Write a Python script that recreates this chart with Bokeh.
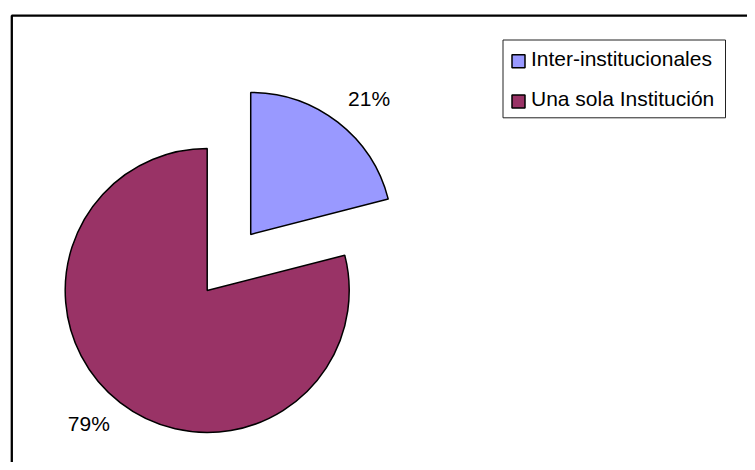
import math
from bokeh.plotting import figure
from bokeh.models import Range1d, ColumnDataSource
from bokeh.embed import file_html
from bokeh.resources import INLINE
from bokeh.core.properties import value

# ---- data ----
categories = ["Inter-institucionales", "Una sola Institución"]
values = [21, 79]
labels = ["21%", "79%"]
colors = ["#9999FF", "#993366"]
explode = [71, 0]          # px offset of each slice (style)

# ---- layout helpers (picture px -> data units; frame is the full canvas) ----
W, H = 747, 462
def X(sx):
    return sx
def Y(sy):
    return H - sy

FONT = value("Liberation Sans")
FSIZE = "21px"

p = figure(width=W, height=H, x_range=Range1d(0, W), y_range=Range1d(0, H),
           output_backend="svg", toolbar_location=None, min_border=0,
           x_axis_location=None, y_axis_location=None)
p.grid.visible = False
p.outline_line_color = None
p.background_fill_color = "white"
p.border_fill_color = "white"

# chart area border (only top/left visible in the crop)
p.quad(left=[X(11.3)], right=[X(900)], top=[Y(15.2)], bottom=[Y(700)],
       fill_color=None, line_color="black", line_width=2.3)

# ---- pie ----
CX, CY, R = X(206.7), Y(290), 142
LABEL_R, LABEL_SHIFT = 179, -3.6
total = float(sum(values))
start = 90.0
xs, ys, starts, ends, lx, ly = [], [], [], [], [], []
for v, e in zip(values, explode):
    end = start - v / total * 360.0
    mid = math.radians((start + end) / 2.0)
    cx = CX + e * math.cos(mid)
    cy = CY + e * math.sin(mid)
    xs.append(cx); ys.append(cy)
    starts.append(math.radians(start)); ends.append(math.radians(end))
    la = mid + math.radians(LABEL_SHIFT)
    lx.append(cx + LABEL_R * math.cos(la))
    ly.append(cy + LABEL_R * math.sin(la))
    start = end

src = ColumnDataSource(dict(x=xs, y=ys, start=starts, end=ends, color=colors,
                            cat=categories, lx=lx, ly=ly, label=labels))
p.wedge(x="x", y="y", radius=R, radius_units="screen",
        start_angle="start", end_angle="end",
        direction="clock", fill_color="color", line_color="black",
        line_width=1.5, source=src)

p.text(x="lx", y="ly", text="label", source=src, text_align="center",
       text_baseline="middle", text_font=FONT, text_font_size=FSIZE,
       text_color="black", y_offset=-1.5)

# ---- legend (drawn) ----
LX0, LY0, LX1, LY1 = 502.5, 39.5, 725, 117.3
p.quad(left=[X(LX0)], right=[X(LX1)], top=[Y(LY0)], bottom=[Y(LY1)],
       fill_color="white", line_color="#222222", line_width=1)
row0, pitch, sw = 60.7, 40.3, 13
sl, st, tx, ty = [], [], [], []
for i, c in enumerate(categories):
    cy = row0 + i * pitch
    sl.append(X(511.5)); st.append(Y(cy))
    tx.append(X(530.5)); ty.append(Y(cy - 3.2))
lsrc = ColumnDataSource(dict(l=sl, r=[v + sw for v in sl],
                             t=[v + sw / 2 for v in st], b=[v - sw / 2 for v in st],
                             color=colors, tx=tx, ty=ty, cat=categories))
p.quad(left="l", right="r", top="t", bottom="b", fill_color="color",
       line_color="black", line_width=1.5, source=lsrc)
p.text(x="tx", y="ty", text="cat", source=lsrc, text_align="left",
       text_baseline="middle", text_font=FONT, text_font_size=FSIZE,
       text_color="black")

open("out.html", "w").write(file_html(p, INLINE))
